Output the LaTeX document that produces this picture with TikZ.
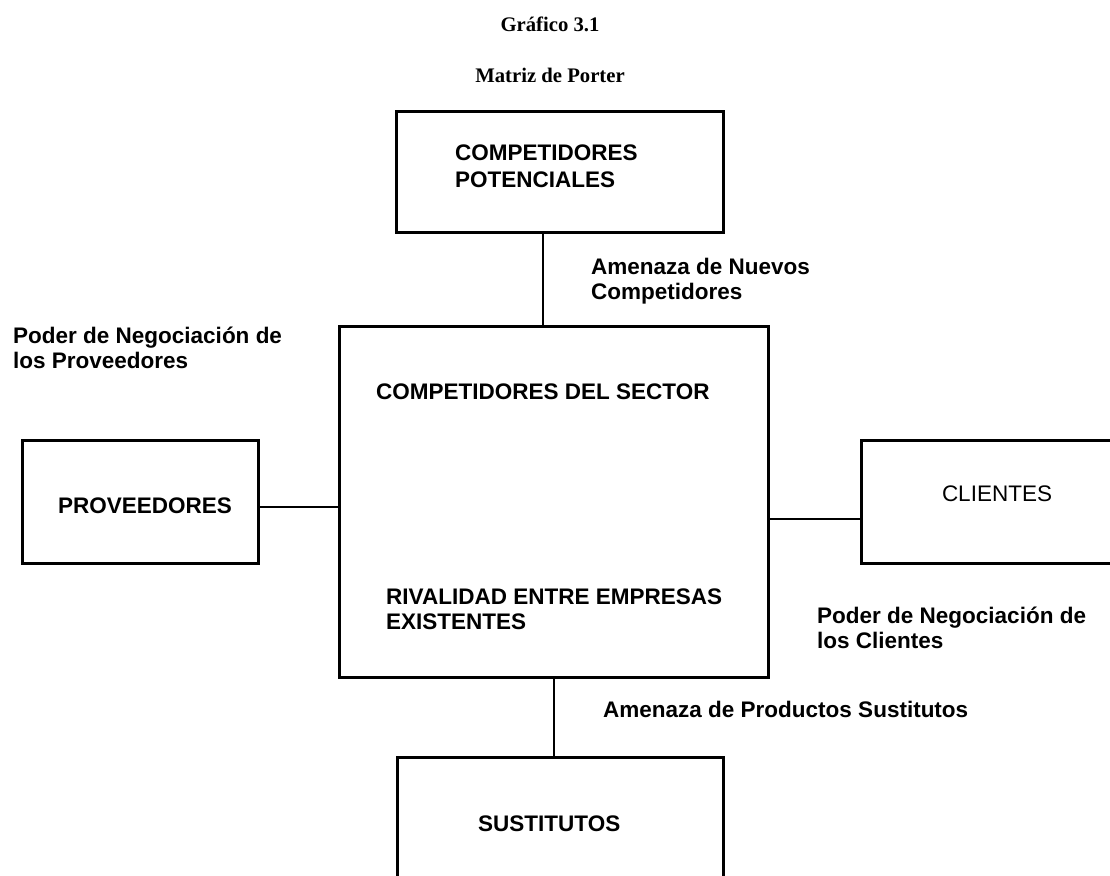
\documentclass[tikz,border=0pt]{standalone}
\usepackage{fontspec}
\setmainfont{Liberation Sans}
\newfontfamily\titlefont{Liberation Serif}
\tikzset{
  box/.style={draw, line width=3pt, rectangle, inner sep=0pt},
  conn/.style={line width=2.8pt},
  lbl/.style={inner sep=0pt, anchor=base west, align=left, font=\fontsize{22.5}{25}\selectfont\bfseries},
  ttl/.style={inner sep=0pt, anchor=base, font=\titlefont\fontsize{20.7}{24}\selectfont\bfseries},
}
\begin{document}
\begin{tikzpicture}[x=1pt,y=-1pt]
\clip (0,0) rectangle (1110,875);
\fill[white] (0,0) rectangle (1110,875);
% boxes
\node[box, minimum width=327pt, minimum height=121pt] (pot) at (559.5,171.5) {};
\node[box, minimum width=429pt, minimum height=351pt] (sec) at (553.5,501.5) {};
\node[box, minimum width=236pt, minimum height=123pt] (prov) at (140,501.5) {};
\node[box, minimum width=272pt, minimum height=123pt] (cli) at (997,501.5) {};
\node[box, minimum width=326pt, minimum height=143pt] (sus) at (560,828.5) {};
% connectors
\coordinate (ct) at (543,0);
\coordinate (cb) at (554,0);
\coordinate (cl) at (0,507);
\coordinate (cr) at (0,519);
\draw[conn] (pot.south -| ct) -- (sec.north -| ct);
\draw[conn] (sec.south -| cb) -- (sus.north -| cb);
\draw[conn] (prov.east |- cl) -- (sec.west |- cl);
\draw[conn] (sec.east |- cr) -- (cli.west |- cr);
% titles
\node[ttl] (t1) at (550,32) {Gráfico 3.1};
\node[ttl] (t2) at (550,82) {Matriz de Porter};
% labels (multi-line nodes: base = baseline of last line)
\node[lbl, font=\fontsize{22.5}{27}\selectfont\bfseries] (potl) at (455,187) {COMPETIDORES\\POTENCIALES};
\node[lbl] (nuevos) at (591,299) {Amenaza de Nuevos\\Competidores};
\node[lbl] (pprov) at (13,368) {Poder de Negociación de\\los Proveedores};
\node[lbl] (secl) at (376,399) {COMPETIDORES DEL SECTOR};
\node[lbl] (riv) at (386,629) {RIVALIDAD ENTRE EMPRESAS\\EXISTENTES};
\node[lbl] (provl) at (58,513) {PROVEEDORES};
\node[lbl, anchor=base, font=\fontsize{22.5}{25}\selectfont] (clil) at (997,501) {CLIENTES};
\node[lbl] (pcli) at (817,648) {Poder de Negociación de\\los Clientes};
\node[lbl] (sust) at (603,717) {Amenaza de Productos Sustitutos};
\node[lbl] (susl) at (478,831) {SUSTITUTOS};
\end{tikzpicture}
\end{document}
